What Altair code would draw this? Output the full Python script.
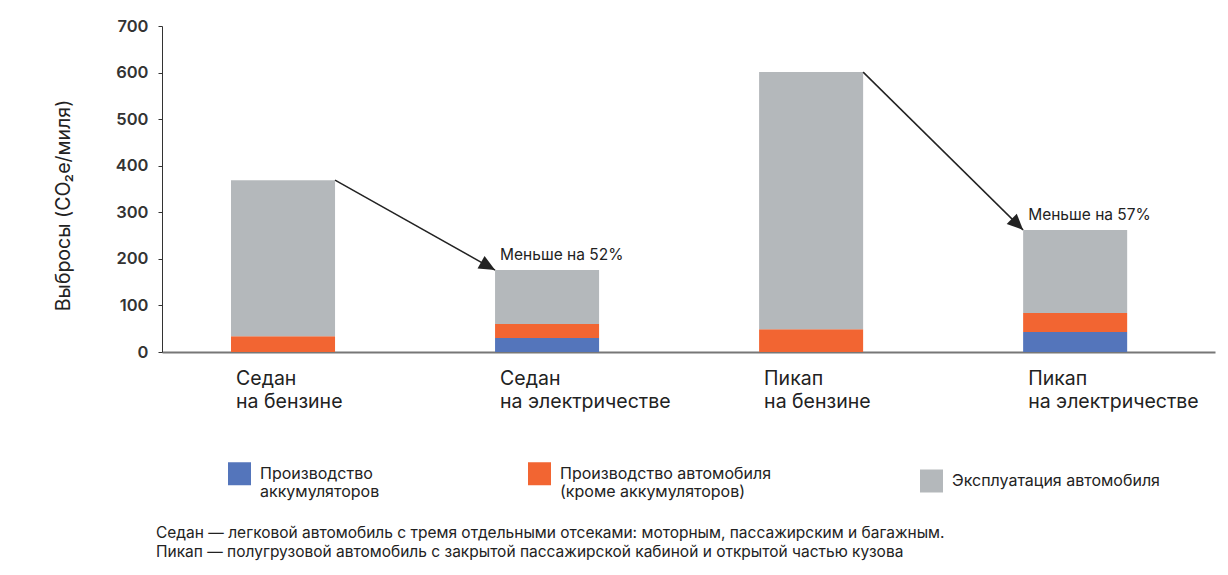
import altair as alt
import pandas as pd

categories = ["Седан\nна бензине", "Седан\nна электричестве", "Пикап\nна бензине", "Пикап\nна электричестве"]
components = ["Производство\nаккумуляторов", "Производство автомобиля\n(кроме аккумуляторов)", "Эксплуатация автомобиля"]
battery = [0, 30, 0, 43]
vehicle = [34, 30, 49, 41]
operation = [335, 116, 552, 178]
colors = ["#5475BB", "#F26532", "#B4B8BB"]
reductions = ["Меньше на 52%", "Меньше на 57%"]
y_ticks = [0, 100, 200, 300, 400, 500, 600, 700]
y_title = "Выбросы (CO₂e/миля)"
footnote = [
    "Седан — легковой автомобиль с тремя отдельными отсеками: моторным, пассажирским и багажным.",
    "Пикап — полугрузовой автомобиль с закрытой пассажирской кабиной и открытой частью кузова",
]

rows = []
for i, c in enumerate(categories):
    for j, vals in enumerate([battery, vehicle, operation]):
        rows.append({"cat": c, "comp": components[j], "value": vals[i], "order": j})
df = pd.DataFrame(rows)

totals = [b + v + o for b, v, o in zip(battery, vehicle, operation)]
arrows = pd.DataFrame({
    "from": [categories[0], categories[2]],
    "to": [categories[1], categories[3]],
    "y_from": [totals[0], totals[2]],
    "y_to": [totals[1], totals[3]],
    "label": reductions,
})

FONT = "Inter"
xscale = alt.Scale(domain=categories, paddingInner=0.606, paddingOuter=0.297, align=0.44)
yscale = alt.Scale(domain=[0, 700])

bars = alt.Chart(df).mark_bar().encode(
    x=alt.X("cat:N", scale=xscale, sort=categories, title=None,
            axis=alt.Axis(labelAngle=0, labelAlign="left", labelBaseline="top",
                          labelOffset=-47, labelPadding=17, labelFontSize=19.5,
                          labelLineHeight=23, labelColor="#222", labelFont=FONT,
                          labelLimit=400, ticks=False, domainColor="#777",
                          domainWidth=2,
                          labelExpr="split(datum.label, '\\n')")),
    y=alt.Y("value:Q", stack="zero", scale=yscale, title=y_title,
            axis=alt.Axis(values=y_ticks, grid=False, tickSize=4, tickColor="#333",
                          labelFontSize=16.5, labelFontWeight=600, labelColor="#333",
                          labelFont=FONT, labelPadding=10, domainColor="#333",
                          titleFontSize=19.5, titleFontWeight="normal", titleColor="#222",
                          titleFont=FONT, titlePadding=42, titleY=179)),
    color=alt.Color("comp:N", scale=alt.Scale(domain=components, range=colors),
                    legend=alt.Legend(orient="none", legendX=66, legendY=436,
                                      direction="horizontal", title=None,
                                      symbolType="square", symbolSize=529,
                                      symbolStrokeWidth=0, symbolOpacity=1,
                                      labelFontSize=16, labelFont=FONT,
                                      labelColor="#222", labelOffset=9,
                                      labelLimit=400, columnPadding=148,
                                      labelExpr="split(datum.label, '\\n')")),
    order=alt.Order("order:Q"),
)

arrow_lines = alt.Chart(arrows).mark_rule(color="#222", strokeWidth=1.5).encode(
    x=alt.X("from:N", bandPosition=1, scale=xscale),
    x2=alt.X2("to:N", bandPosition=0),
    y=alt.Y("y_from:Q", scale=yscale),
    y2="y_to:Q",
)

heads = []
for idx, ang in zip([0, 1], [29, 44.5]):
    heads.append(
        alt.Chart(arrows.iloc[[idx]]).mark_point(
            shape="M0,0L-1,-0.45L-1,0.45Z", filled=True, size=1024, angle=ang,
            color="#222", opacity=1, strokeWidth=0,
        ).encode(
            x=alt.X("to:N", bandPosition=0, scale=xscale),
            y=alt.Y("y_to:Q", scale=yscale),
        )
    )

labels = alt.Chart(arrows).mark_text(
    align="left", baseline="middle", dx=5, dy=-15, fontSize=15.5, font=FONT, color="#222"
).encode(
    x=alt.X("to:N", bandPosition=0, scale=xscale),
    y=alt.Y("y_to:Q", scale=yscale),
    text="label:N",
)

chart = alt.layer(bars, arrow_lines, *heads, labels).properties(
    width=1053, height=326,
    padding={"left": 45, "top": 10, "right": 5, "bottom": 5},
    title=alt.TitleParams(text=footnote, orient="bottom", anchor="start", frame="group",
                          fontSize=15.5, fontWeight="normal", font=FONT, color="#222",
                          lineHeight=19, dx=-6, offset=26),
).configure_view(stroke=None)

chart.save("out.html", embed_options={"renderer": "svg", "actions": False})
